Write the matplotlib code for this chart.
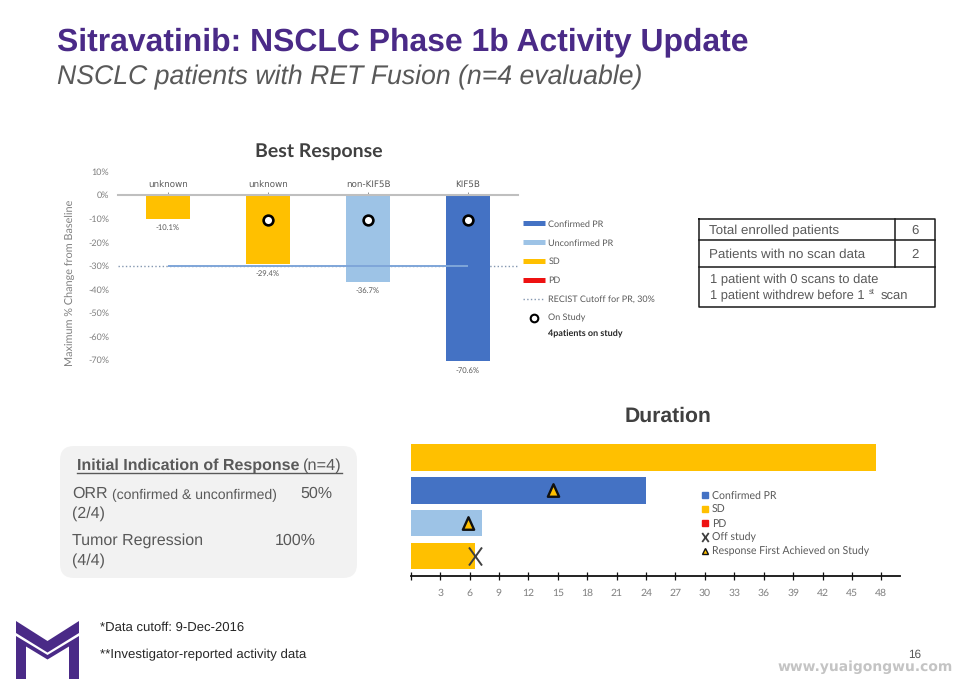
import matplotlib
matplotlib.use('Agg')
import matplotlib.pyplot as plt
from matplotlib.lines import Line2D
from matplotlib.patches import FancyBboxPatch, Polygon
from matplotlib.path import Path

plt.rcParams['text.hinting'] = 'no_hinting'
plt.rcParams['text.hinting_factor'] = 8

W, H = 958, 679
ARIAL = 'Liberation Sans'
CALIBRI = 'Lato'
PURPLE = '#4a2a87'
GREY = '#7f7f7f'
TXT = '#595959'
BLUE = '#4472c4'
LIGHT = '#9dc3e6'
GOLD = '#ffc000'
RED = '#ee1111'

# best response
mutations = ['unknown', 'unknown', 'non-KIF5B', 'KIF5B']
change = [-10.1, -29.4, -36.7, -70.6]
change_colors = [GOLD, GOLD, LIGHT, BLUE]
on_study_idx = [1, 2, 3]
on_study_y = [-10.6, -10.6, -10.6]
cutoff = -30
y_ticks = [10, 0, -10, -20, -30, -40, -50, -60, -70]

# duration
months = [47.5, 24.0, 7.3, 6.6]
month_colors = [GOLD, BLUE, LIGHT, GOLD]
first_resp_x = [14.5, 5.8]
first_resp_y = [1, 2]
off_x = [6.6]
off_y = [3]
x_ticks = list(range(3, 49, 3))

fig = plt.figure(figsize=(W / 100, H / 100), dpi=100)


def px_axes(left, top, right, bottom):
    return fig.add_axes([left / W, 1 - bottom / H, (right - left) / W, (bottom - top) / H])


# page layer, pixel coordinates
page = fig.add_axes([0, 0, 1, 1])
page.set_xlim(0, W)
page.set_ylim(H, 0)
page.axis('off')


def put(x, y, s, size, family=ARIAL, color=TXT, **kw):
    kw.setdefault('va', 'center')
    return page.text(x, y, s, fontsize=size, family=family, color=color, **kw)


put(57, 42, 'Sitravatinib: NSCLC Phase 1b Activity Update', 22.93, color=PURPLE, weight='bold')
put(57, 77, 'NSCLC patients with RET Fusion (n=4 evaluable)', 19.13, style='italic')

put(319, 151, 'Best Response', 14, family=CALIBRI, color='#404040', weight='bold', ha='center')
put(668, 416, 'Duration', 15.2, color='#404040', weight='bold', ha='center')
put(548, 334, '4patients on study', 6.5, family=CALIBRI, color='#262626', weight='bold')

# patient table
for xs, ys in [([699, 935, 935, 699, 699], [219, 219, 307, 307, 219]),
               ([699, 935], [240, 240]), ([699, 935], [267, 267]), ([895, 895], [219, 267])]:
    page.plot(xs, ys, color='#1a1a1a', lw=1.1, solid_capstyle='projecting')
put(709, 231, 'Total enrolled patients', 9.6)
put(709, 255, 'Patients with no scan data', 9.6)
put(915, 231, '6', 9.5, ha='center')
put(915, 255, '2', 9.5, ha='center')
put(710, 280, '1 patient with 0 scans to date', 9.4)
put(710, 296, '1 patient withdrew before 1', 9.3)
put(869, 292, 'st', 5.5)
put(881, 296, 'scan', 9.4)

# response box
page.add_patch(FancyBboxPatch((72, 458), 273, 108, boxstyle='round,pad=12,rounding_size=14',
                              fc='#f2f2f2', ec='none'))
put(77, 466, 'Initial Indication of Response', 11.5, weight='bold')
put(303, 466, '(n=4)', 11.8)
page.plot([77, 342], [473, 473], color=TXT, lw=1)
put(72, 494, 'ORR', 11.5)
put(112, 495, '(confirmed & unconfirmed)', 10.1)
put(300, 494, '50%', 11.5)
put(72, 514, '(2/4)', 11.5)
put(72, 541, 'Tumor Regression', 11.5)
put(275, 541, '100%', 11.5)
put(72, 561, '(4/4)', 11.5)

# footnotes
put(100, 628, '*Data cutoff: 9-Dec-2016', 9.45, color='#262626')
put(100, 655, '**Investigator-reported activity data', 9.55, color='#262626')
put(908, 655, '16', 8.5)
put(778, 667, 'www.yuaigongwu.com', 10, family='DejaVu Sans', color='#c4c4c4', weight='bold')

# logo
page.add_patch(Polygon([(16, 621), (47.5, 641), (79, 621), (79, 633), (47.5, 652.5), (16, 633)],
                       fc=PURPLE, ec='none'))
page.add_patch(Polygon([(16, 636), (47.5, 655), (79, 636), (79, 679), (69, 679), (69, 646.5),
                        (47.5, 659.5), (26, 646.5), (26, 679), (16, 679)], fc=PURPLE, ec='none'))

# best response chart
ax = px_axes(118, 171.4, 518, 371.8)
ax.patch.set_alpha(0)
bars = ax.bar(range(4), change, width=0.44, color=change_colors, zorder=2)
ax.bar_label(bars, fmt='%.1f%%', padding=4, fontsize=5.5, family=CALIBRI, color=TXT)
ax.hlines(cutoff, -0.5, 3.5, color='#8497b0', lw=1, ls=':', zorder=1)
ax.hlines(cutoff, 0, 3, color='#7fa6d9', lw=1.4, zorder=3)
ax.plot(on_study_idx, on_study_y, ls='none', marker='o', ms=7, mfc='white', mec='black', mew=1.9, zorder=4)
ax.set_xlim(-0.5, 3.5)
ax.set_ylim(-75, 10)
ax.set_yticks(y_ticks)
ax.set_yticklabels([f'{t}%' for t in y_ticks])
ax.tick_params(axis='y', length=0, pad=6.5, labelsize=6.5, labelcolor=GREY)
for lab in ax.get_yticklabels():
    lab.set_family(CALIBRI)
ax.xaxis.tick_top()
ax.set_xticks(range(4))
ax.set_xticklabels(mutations)
ax.tick_params(axis='x', direction='inout', length=5, width=0.6, color='#7f7f7f', pad=2,
               labelsize=6.3, labelcolor='#595959')
for lab in ax.get_xticklabels():
    lab.set_family(ARIAL)
for side in ['left', 'right', 'bottom']:
    ax.spines[side].set_visible(False)
ax.spines['top'].set_position(('data', 0))
ax.spines['top'].set_color('#bfbfbf')
ax.spines['top'].set_linewidth(1.5)
ax.set_ylabel('Maximum % Change from Baseline', fontsize=7.8, family=CALIBRI, color=GREY)
ax.yaxis.set_label_coords(-0.1075, 0.445)

handles = [Line2D([], [], color=BLUE, lw=3.6, solid_capstyle='butt'),
           Line2D([], [], color=LIGHT, lw=3.6, solid_capstyle='butt'),
           Line2D([], [], color=GOLD, lw=3.6, solid_capstyle='butt'),
           Line2D([], [], color=RED, lw=3.6, solid_capstyle='butt'),
           Line2D([], [], color='#8497b0', lw=1, ls=':'),
           Line2D([], [], ls='none', marker='o', ms=5.5, mfc='white', mec='black', mew=1.5)]
labels = ['Confirmed PR', 'Unconfirmed PR', 'SD', 'PD', 'RECIST Cutoff for PR, 30%', 'On Study']
fig.legend(handles, labels, loc='upper left', bbox_to_anchor=(523 / W, 1 - 220 / H), frameon=False,
           prop={'family': CALIBRI, 'size': 6.5}, labelcolor=TXT, borderpad=0, borderaxespad=0,
           handlelength=2.4, handletextpad=0.4, labelspacing=1.18)

# duration chart
ax2 = px_axes(410.7, 441, 900, 575.7)
ax2.patch.set_alpha(0)
ax2.barh(range(4), months, height=0.81, color=month_colors, zorder=2)
tri = Path([(-0.9, -1), (0, 1), (0.9, -1), (-0.9, -1)], closed=True)
ax2.plot(first_resp_x, first_resp_y, ls='none', marker=tri, ms=9, mfc=GOLD, mec='#111111', mew=1.7, zorder=4)
xmark = Path([(-0.72, -1), (0.72, 1), (-0.72, 1), (0.72, -1)],
             [Path.MOVETO, Path.LINETO, Path.MOVETO, Path.LINETO])
ax2.plot(off_x, off_y, ls='none', marker=xmark, ms=13, mfc='none', mec='#404040', mew=1.4, zorder=4)
ax2.set_xlim(0, 49.9)
ax2.set_ylim(3.6, -0.5)
ax2.set_yticks([])
ax2.set_xticks([0] + x_ticks)
ax2.set_xticklabels([''] + [str(t) for t in x_ticks])
ax2.tick_params(axis='x', direction='inout', length=6, width=0.9, color='#111111', pad=6,
                labelsize=7.5, labelcolor=GREY)
for lab in ax2.get_xticklabels():
    lab.set_family(CALIBRI)
for side in ['left', 'right', 'top']:
    ax2.spines[side].set_visible(False)
ax2.spines['bottom'].set_color('#111111')
ax2.spines['bottom'].set_linewidth(1.3)

handles2 = [Line2D([], [], ls='none', marker='s', ms=4.5, color=BLUE),
            Line2D([], [], ls='none', marker='s', ms=4.5, color=GOLD),
            Line2D([], [], ls='none', marker='s', ms=4.5, color=RED),
            Line2D([], [], ls='none', marker=xmark, ms=6.5, mfc='none', mec='#404040', mew=1.3),
            Line2D([], [], ls='none', marker='^', ms=5, mfc=GOLD, mec='#111111', mew=1)]
labels2 = ['Confirmed PR', 'SD', 'PD', 'Off study', 'Response First Achieved on Study']
fig.legend(handles2, labels2, loc='upper left', bbox_to_anchor=(701 / W, 1 - 491 / H), frameon=False,
           prop={'family': CALIBRI, 'size': 7.6}, labelcolor=TXT, borderpad=0, borderaxespad=0,
           handlelength=0.7, handletextpad=0.3, labelspacing=0.36)

fig.savefig('out.png', dpi=100)
